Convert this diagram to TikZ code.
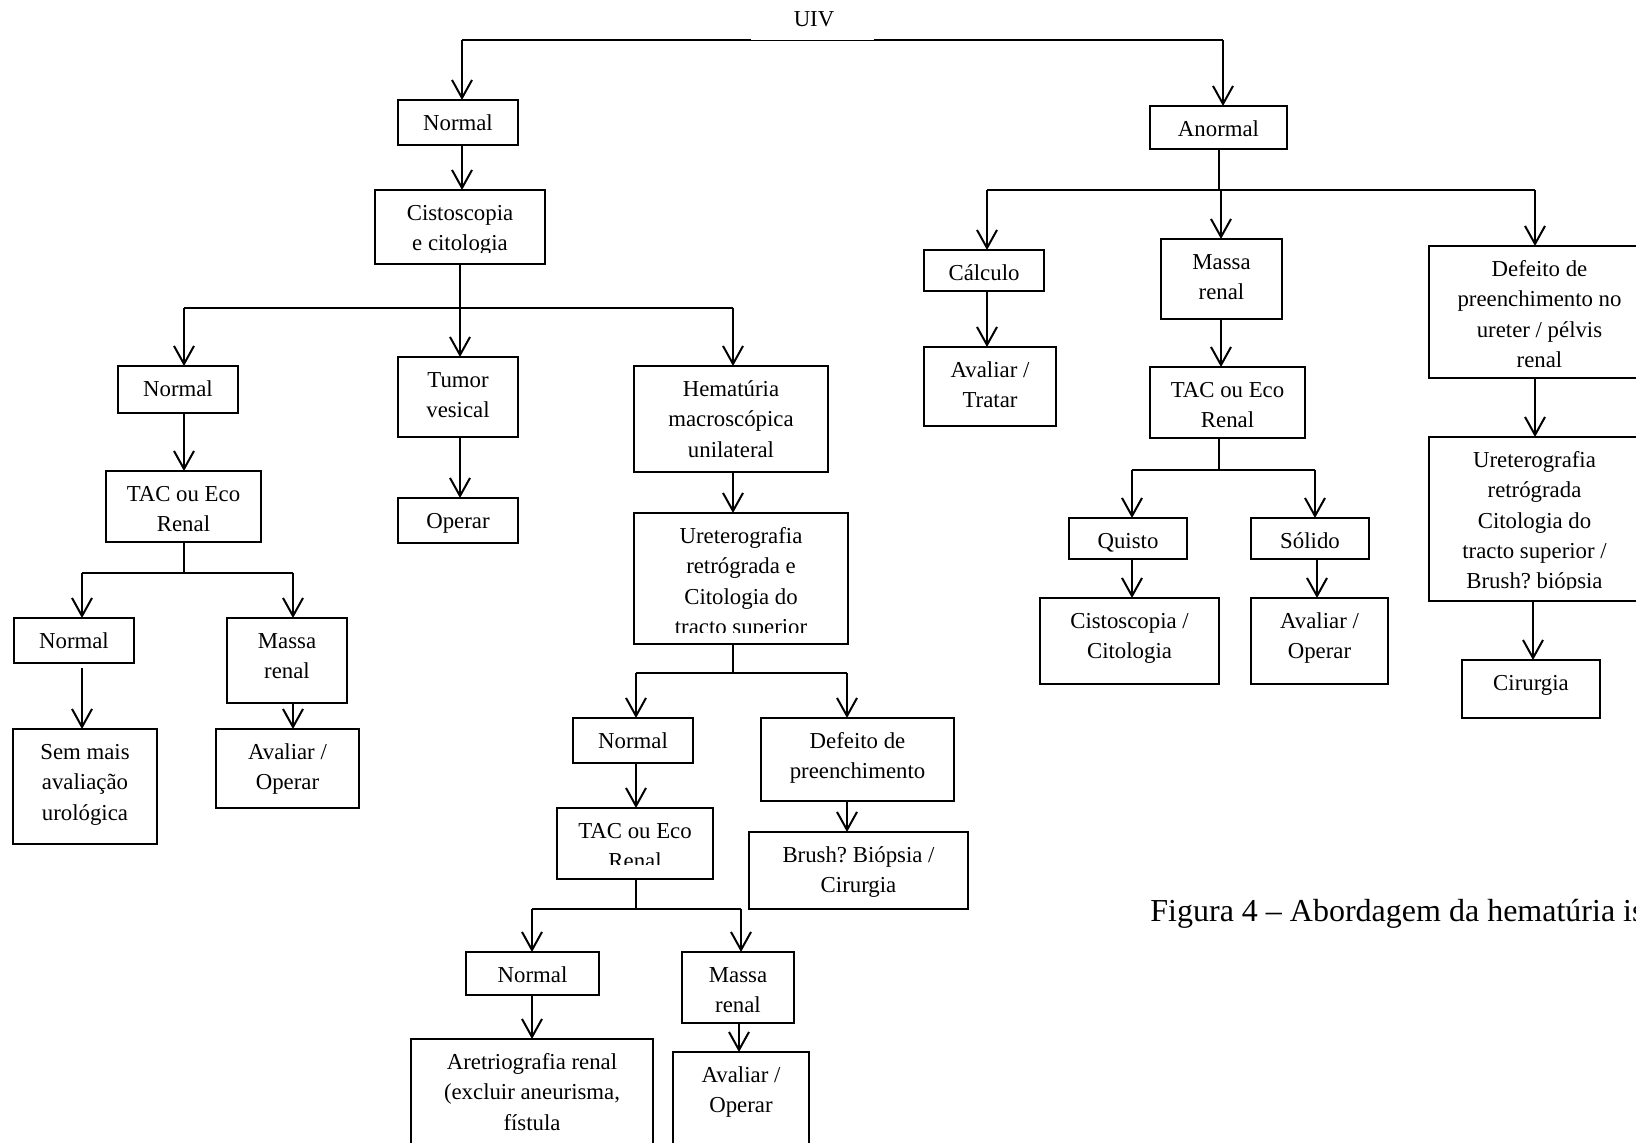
\documentclass[tikz,border=0pt]{standalone}
\usepackage{fontspec}
\setmainfont{Liberation Serif}
\usetikzlibrary{arrows.meta}
\frenchspacing
\newcommand\boxfont{\fontsize{11.4}{15.1}\selectfont}
\newcommand\capfont{\fontsize{16}{19}\selectfont}
% \flowbox{name}{x1}{y1}{x2}{y2}{lbl|cut|cutmore}{text}: a box given by its corners
\newcommand\flowbox[7]{%
  \node[box, #6={#7},
        minimum width={(#4-#2)*0.5pt}, minimum height={(#5-#3)*0.5pt}]
        (#1) at ({(#2+#4)/2},{(#3+#5)/2}) {};}
\tikzset{
  ln/.style={line width=1pt},
  arr/.style={line width=1pt,-{Straight Barb[length=9pt,width=10pt]}},
  box/.style={draw, line width=1pt, inner sep=0pt, outer sep=0pt},
  boxtext/.style={draw=none, fill=none, anchor=north, inner sep=0pt,
    minimum width=0pt, minimum height=0pt, align=center, font=\boxfont},
  % text hung from the top edge of a box
  lbl/.style={path picture={
    \node[boxtext] at ([yshift=-5.3pt]path picture bounding box.north)
      {\rule{0pt}{10pt}#1};}},
  % same, but the text is cut off a little above the bottom edge
  cutat/.style 2 args={path picture={
    \clip ([yshift=#1]path picture bounding box.south west) rectangle
          (path picture bounding box.north east);
    \node[boxtext] at ([yshift=-5.3pt]path picture bounding box.north)
      {\rule{0pt}{10pt}#2};}},
  cut/.style={cutat={6pt}{#1}},
  cutmore/.style={cutat={7.5pt}{#1}},
}
\begin{document}
\begin{tikzpicture}[x=0.5pt,y=-0.5pt]
\useasboundingbox (0,0) rectangle (1636,1142);

% ---------- nodes ----------
\node[font=\boxfont] (uiv) at (814,19) {UIV};

\flowbox{n1}{398}{100}{518}{145}{lbl}{Normal}
\flowbox{an}{1150}{106}{1287}{149}{lbl}{Anormal}

\flowbox{cis}{375}{190}{545}{264}{cut}{Cistoscopia\\e citologia}
\flowbox{n2}{118}{366}{238}{413}{lbl}{Normal}
\flowbox{tv}{398}{357}{518}{437}{lbl}{Tumor\\vesical}
\flowbox{hm}{634}{366}{828}{472}{lbl}{Hematúria\\macroscópica\\unilateral}
\flowbox{op}{398}{498}{518}{543}{lbl}{Operar}
\flowbox{tac1}{106}{471}{261}{542}{lbl}{TAC ou Eco\\Renal}
\flowbox{n3}{14}{618}{134}{663}{lbl}{Normal}
\flowbox{mr1}{227}{618}{347}{703}{lbl}{Massa\\renal}
\flowbox{sm}{13}{729}{157}{844}{lbl}{Sem mais\\avaliação\\urológica}
\flowbox{ao1}{216}{729}{359}{808}{lbl}{Avaliar /\\Operar}

\flowbox{ur1}{634}{513}{848}{644}{cut}{Ureterografia\\retrógrada e\\Citologia do\\tracto superior}
\flowbox{n4}{573}{718}{693}{763}{lbl}{Normal}
\flowbox{dp}{761}{718}{954}{801}{lbl}{Defeito de\\preenchimento}
\flowbox{tac2}{557}{808}{713}{879}{cutmore}{TAC ou Eco\\Renal}
\flowbox{br}{749}{832}{968}{909}{lbl}{Brush? Biópsia /\\Cirurgia}
\flowbox{n5}{466}{952}{599}{995}{lbl}{Normal}
\flowbox{mr2}{682}{952}{794}{1023}{lbl}{Massa\\renal}
\flowbox{ar}{411}{1039}{653}{1160}{lbl}{Aretriografia renal\\(excluir aneurisma,\\fístula}
\flowbox{ao2}{673}{1052}{809}{1160}{lbl}{Avaliar /\\Operar}

\flowbox{calc}{924}{250}{1044}{291}{lbl}{Cálculo}
\flowbox{mr3}{1161}{239}{1282}{319}{lbl}{Massa\\renal}
\flowbox{du}{1429}{246}{1650}{378}{lbl}{Defeito de\\preenchimento no\\ureter / pélvis\\renal}
\flowbox{at}{924}{347}{1056}{426}{lbl}{Avaliar /\\Tratar}
\flowbox{tac3}{1150}{367}{1305}{438}{lbl}{TAC ou Eco\\Renal}
\flowbox{qu}{1069}{518}{1187}{559}{lbl}{Quisto}
\flowbox{so}{1251}{518}{1369}{559}{lbl}{Sólido}
\flowbox{cc}{1040}{598}{1219}{684}{lbl}{Cistoscopia /\\Citologia}
\flowbox{ao3}{1251}{598}{1388}{684}{lbl}{Avaliar /\\Operar}
\flowbox{ur2}{1429}{437}{1640}{601}{cut}{Ureterografia\\retrógrada\\Citologia do\\tracto superior /\\Brush? biópsia}
\flowbox{cir}{1462}{660}{1600}{718}{lbl}{Cirurgia}

\node[font=\capfont, anchor=base west, inner sep=0pt] (cap) at (1150,921) {Figura 4 – Abordagem da hematúria is};

% ---------- connectors ----------
% UIV split
\coordinate (uivL) at (462,40);
\coordinate (uivR) at (1223,40);
\draw[ln] (uivL) -- (751,40);
\draw[line width=0.5pt] (751,40) -- (874,40);
\draw[ln] (874,40) -- (uivR);
\draw[arr] (uivL) -- (n1.north -| uivL);
\draw[arr] (uivR) -- (an.north -| uivR);

% normal branch
\draw[arr] (n1.south -| 462,0) -- (cis.north -| 462,0);
\draw[ln] (cis.south -| 460,0) -- (460,308);
\draw[ln] (184,308) -- (733,308);
\draw[arr] (184,308) -- (n2.north -| 184,0);
\draw[arr] (460,308) -- (tv.north -| 460,0);
\draw[arr] (733,308) -- (hm.north -| 733,0);

\draw[arr] (n2.south -| 184,0) -- (tac1.north -| 184,0);
\draw[arr] (tv.south -| 460,0) -- (op.north -| 460,0);

\draw[ln] (tac1.south -| 184,0) -- (184,573);
\draw[ln] (82,573) -- (293,573);
\draw[arr] (82,573) -- (n3.north -| 82,0);
\draw[arr] (293,573) -- (mr1.north -| 293,0);
\draw[arr] ([yshift=-2.5pt]n3.south -| 82,0) -- (sm.north -| 82,0);
\draw[arr] (mr1.south -| 293,0) -- (ao1.north -| 293,0);

\draw[arr] (hm.south -| 733,0) -- (ur1.north -| 733,0);
\draw[ln] (ur1.south -| 733,0) -- (733,673);
\draw[ln] (636,673) -- (847,673);
\draw[arr] (636,673) -- (n4.north -| 636,0);
\draw[arr] (847,673) -- (dp.north -| 847,0);
\draw[arr] (n4.south -| 636,0) -- (tac2.north -| 636,0);
\draw[arr] (dp.south -| 847,0) -- (br.north -| 847,0);

\draw[ln] (tac2.south -| 636,0) -- (636,909);
\draw[ln] (532,909) -- (741,909);
\draw[arr] (532,909) -- (n5.north -| 532,0);
\draw[arr] (741,909) -- (mr2.north -| 741,0);
\draw[arr] (n5.south -| 532,0) -- (ar.north -| 532,0);
\draw[arr] (mr2.south -| 739,0) -- (ao2.north -| 739,0);

% abnormal branch
\draw[ln] (an.south -| 1219,0) -- (1219,190);
\draw[ln] (987,190) -- (1535,190);
\draw[arr] (987,190) -- (calc.north -| 987,0);
\draw[arr] (1221,190) -- (mr3.north -| 1221,0);
\draw[arr] (1535,190) -- (du.north -| 1535,0);

\draw[arr] (calc.south -| 987,0) -- (at.north -| 987,0);
\draw[arr] (mr3.south -| 1221,0) -- (tac3.north -| 1221,0);

\draw[ln] (tac3.south -| 1219,0) -- (1219,470);
\draw[ln] (1132,470) -- (1315,470);
\draw[arr] (1132,470) -- (qu.north -| 1132,0);
\draw[arr] (1315,470) -- (so.north -| 1315,0);
\draw[arr] (qu.south -| 1132,0) -- (cc.north -| 1132,0);
\draw[arr] (so.south -| 1317,0) -- (ao3.north -| 1317,0);

\draw[arr] (du.south -| 1535,0) -- (ur2.north -| 1535,0);
\draw[arr] (ur2.south -| 1533,0) -- (cir.north -| 1533,0);
\end{tikzpicture}
\end{document}
